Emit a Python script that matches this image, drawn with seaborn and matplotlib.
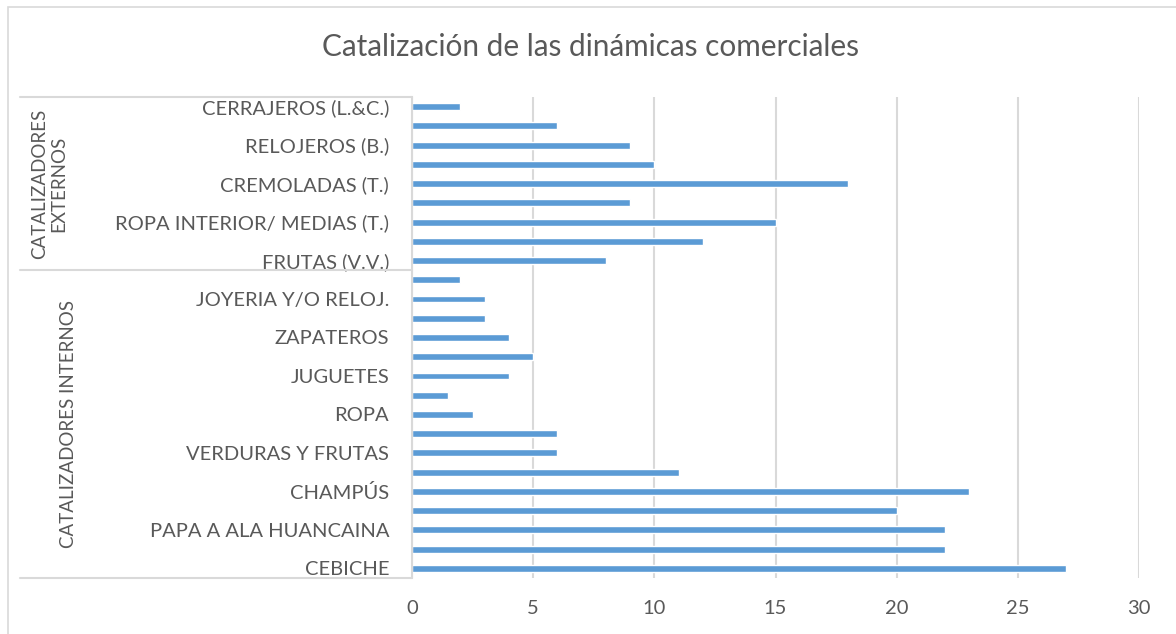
import pandas as pd
import matplotlib
matplotlib.use("Agg")
import matplotlib.pyplot as plt
import matplotlib.transforms as mtransforms
from matplotlib.patches import Rectangle
import seaborn as sns

# categories listed top to bottom, as in the chart ("" = label hidden on the axis)
labels = [
    "CERRAJEROS (L.&C.)", "", "RELOJEROS (B.)", "", "CREMOLADAS (T.)", "",
    "ROPA INTERIOR/ MEDIAS (T.)", "", "FRUTAS (V.V.)",
    "", "JOYERIA Y/O RELOJ.", "", "ZAPATEROS", "", "JUGUETES", "", "ROPA", "",
    "VERDURAS Y FRUTAS", "", "CHAMPÚS", "", "PAPA A ALA HUANCAINA", "", "CEBICHE",
]
values = [
    2, 6, 9, 10, 18, 9, 15, 12, 8,
    2, 3, 3, 4, 5, 4, 1.5, 2.5, 6, 6, 11, 23, 20, 22, 22, 27,
]
groups = ["CATALIZADORES\nEXTERNOS", "CATALIZADORES INTERNOS"]
group_sizes = [9, 16]
x_ticks = [0, 5, 10, 15, 20, 25, 30]

title = "Catalización de las dinámicas comerciales"
bar_color = "#5B9BD5"
text_color = "#595959"
line_color = "#D9D9D9"

df = pd.DataFrame({"pos": list(range(len(values))), "value": values})

sns.set_theme(style="white")
plt.rcParams["font.family"] = ["Lato", "DejaVu Sans"]

fig = plt.figure(figsize=(11.76, 6.34), dpi=100)
ax = fig.add_axes([412 / 1176, 1 - 578 / 634, 727 / 1176, 481 / 634])

sns.barplot(data=df, x="value", y="pos", orient="h", color=bar_color,
            width=0.36, saturation=1, ax=ax)

ax.set_xlim(0, 30)
ax.set_xticks(x_ticks)
ax.set_xticklabels([str(t) for t in x_ticks])
ax.set_yticks(range(len(labels)))
ax.set_yticklabels(labels)
ax.set_ylim(len(labels) - 0.5, -0.5)
ax.set_xlabel("")
ax.set_ylabel("")
ax.tick_params(axis="x", length=0, pad=16, labelsize=14.5, labelcolor=text_color)
ax.tick_params(axis="y", length=0, pad=16.5, labelsize=14.5, labelcolor=text_color)

ax.grid(axis="x", color=line_color, linewidth=1.5)
ax.set_axisbelow(True)
for side in ["top", "right", "bottom"]:
    ax.spines[side].set_visible(False)
ax.spines["left"].set_color(line_color)
ax.spines["left"].set_linewidth(1.5)

# group brackets on the left
trans = mtransforms.blended_transform_factory(ax.transAxes, ax.transData)
x0 = (20 - 412) / 727
bounds = [-0.5]
for n in group_sizes:
    bounds.append(bounds[-1] + n)
for b in bounds:
    ax.plot([x0, 0], [b, b], transform=trans, color=line_color,
            linewidth=1.5, clip_on=False)

group_x = [(49 - 412) / 727, (68 - 412) / 727]
for i, g in enumerate(groups):
    mid = (bounds[i] + bounds[i + 1]) / 2
    ax.text(group_x[i], mid, g, transform=trans, rotation=90, ha="center",
            va="center", fontsize=13.5, color=text_color, linespacing=1.15)

fig.text(591 / 1176, 1 - 47 / 634, title, ha="center", va="center",
         fontsize=21.4, color=text_color)

fig.patches.append(Rectangle((8 / 1176, -0.1), 1.2, 1.1 - 7 / 634,
                             transform=fig.transFigure, fill=False,
                             edgecolor=line_color, linewidth=1.2))

fig.savefig("out.png", dpi=100)
